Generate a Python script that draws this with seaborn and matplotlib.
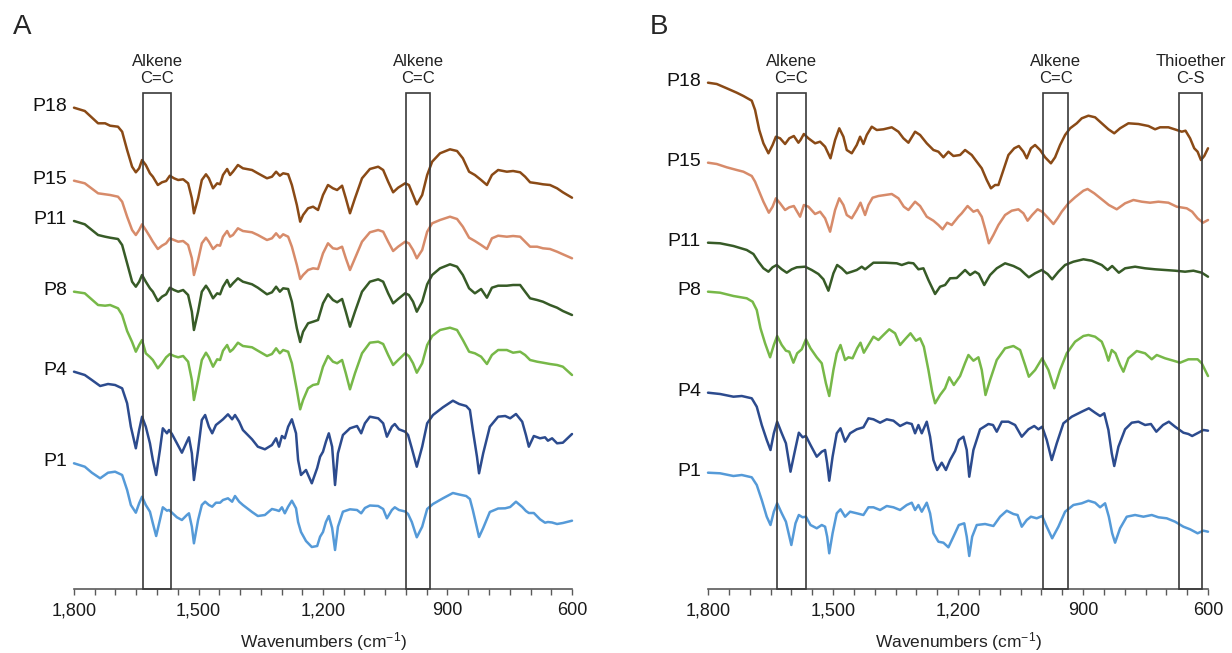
import numpy as np
import pandas as pd
import matplotlib
matplotlib.use("Agg")
import matplotlib.pyplot as plt
from matplotlib.patches import Rectangle
from matplotlib.ticker import MultipleLocator, FixedLocator, FuncFormatter
import seaborn as sns

# ---------------- data (offset transmittance, arbitrary units) ----------------
samples = ["P18", "P15", "P11", "P8", "P4", "P1"]
colors = ["#8a4a16", "#d78b6a", "#375b27", "#77b848", "#2c4b8e", "#559ad8"]

# Panel A
A_wn_top = [1800, 1774, 1742, 1725, 1713, 1694, 1684, 1672, 1660, 1651,
            1643, 1636, 1627, 1617, 1610, 1598, 1588, 1578, 1569, 1559,
            1549, 1537, 1525, 1516, 1511, 1501, 1492, 1482, 1475, 1465,
            1455, 1448, 1441, 1431, 1424, 1417, 1405, 1393, 1371, 1357,
            1335, 1323, 1313, 1304, 1296, 1284, 1275, 1263, 1255, 1248,
            1236, 1224, 1212, 1200, 1188, 1176, 1166, 1154, 1145, 1135,
            1123, 1106, 1087, 1067, 1055, 1043, 1031, 1019, 1002, 993,
            983, 974, 961, 949, 937, 918, 894, 877, 863, 848,
            834, 819, 805, 793, 778, 757, 742, 725, 713, 701,
            684, 670, 653, 636, 622, 600]
A_P18 = [481.3, 478, 465.7, 465.7, 463.3, 462.3, 457.3, 439, 422.3, 416.7,
         420.7, 429, 424, 415.7, 412.3, 404, 406.7, 408, 413.3, 410.7,
         409, 409.7, 405.7, 390.7, 375.7, 390.7, 409, 414.7, 410.7, 400.7,
         405.7, 404.7, 414, 420, 414, 417.3, 424, 420.7, 419, 415.7,
         410.7, 412.3, 417.3, 413.3, 415.7, 414.7, 404, 384, 367.3, 374,
         380.7, 382.3, 379, 394, 404, 400.7, 399, 403.3, 390.7, 375.7,
         390.7, 410.7, 420, 422.3, 419, 407.3, 396.7, 401.3, 405.7, 404,
         394, 384.7, 394, 414, 427.3, 435.7, 439.7, 438, 430.7, 417.3,
         414, 409, 404, 414, 419, 417.3, 418, 416.7, 412.3, 406.7,
         405.7, 404.7, 404, 400.7, 396.7, 391.3]
A_P15 = [408.3, 405.7, 395.7, 394.7, 394, 392.3, 387.3, 372.3, 359, 354,
         359, 364.7, 359, 352.3, 347.3, 340, 343.3, 345.7, 350.7, 349,
         347.3, 348, 344, 330.7, 314, 329, 345.7, 351.3, 347.3, 340,
         344, 343.3, 352.3, 358, 352.3, 354, 360.7, 358, 356.7, 354,
         349, 350.7, 355.7, 351.3, 354.7, 352.3, 342.3, 324, 310, 314,
         319, 320.7, 320, 335.7, 345.7, 340.7, 340, 342.3, 330.7, 319,
         330.7, 347.3, 356.7, 359, 357.3, 347.3, 338, 342.3, 347.3, 345.7,
         339, 330.7, 339, 357.3, 365.7, 369, 372.3, 370, 362.3, 351.3,
         348, 344, 340, 350.7, 353.3, 352.3, 353, 352.3, 347.3, 342.3,
         342.3, 340.7, 340, 337.3, 334.7, 330.7]
A_P11 = [368, 364.7, 354, 352.3, 351.3, 350, 344, 325.7, 307.3, 302.3,
         307.3, 314, 307.3, 300.7, 297.3, 288, 292.3, 294.7, 301.3, 299,
         297.3, 299, 294, 277.3, 259, 277.3, 297.3, 303.3, 299, 290.7,
         295.7, 294.7, 302.3, 309, 302.3, 305.7, 310.7, 307.3, 304.7, 301.3,
         294.7, 296.7, 302.3, 297.3, 300.7, 300, 287.3, 260.7, 247, 257.3,
         265.7, 267.3, 269, 285.7, 294.7, 289, 286.7, 290, 277.3, 262.3,
         277.3, 297.3, 307.3, 309.7, 307.3, 295.7, 285.7, 290, 295.7, 294,
         287.3, 277.3, 287.3, 304.7, 314, 320.7, 324.7, 322.3, 314, 300.7,
         295.7, 300, 291.3, 301.3, 303.3, 303.3, 304, 304, 297.3, 290.7,
         289, 287.3, 284, 281.3, 278, 274]
A_P8 = [297.3, 295.7, 284, 283.3, 284, 280.7, 274, 258, 247, 237.3,
        244, 249, 235.7, 232, 229, 220.7, 225.7, 231.7, 235, 233,
        231.7, 233, 227.3, 209, 189, 209, 229, 236.3, 231.7, 222.3,
        229.7, 229, 238.3, 244, 237.3, 239.7, 246.3, 243, 241.7, 238.3,
        233, 235, 240.7, 235.7, 239, 237.3, 225.7, 199, 179.7, 189,
        200.7, 204, 205, 222.3, 233, 227.3, 225.7, 229, 215.7, 199.7,
        215.7, 235.7, 246.3, 247.3, 245, 234, 224, 229, 235.7, 233,
        225.7, 216.3, 225.7, 244, 253, 259, 261.3, 259, 249, 237.3,
        235.7, 232.3, 225, 234, 239, 239, 236.3, 237.3, 234, 229,
        227.3, 226.3, 225, 224, 222.3, 214]

A_wn_bot = [1800, 1774, 1757, 1737, 1718, 1701, 1684, 1672, 1663, 1651,
            1643, 1636, 1627, 1617, 1610, 1602, 1593, 1586, 1576, 1571,
            1564, 1552, 1540, 1528, 1523, 1516, 1511, 1501, 1492, 1484,
            1475, 1467, 1458, 1448, 1441, 1429, 1419, 1412, 1402, 1393,
            1371, 1357, 1340, 1323, 1313, 1306, 1299, 1292, 1284, 1275,
            1265, 1260, 1253, 1241, 1234, 1227, 1214, 1207, 1200, 1193,
            1186, 1178, 1171, 1164, 1152, 1135, 1118, 1108, 1099, 1087,
            1067, 1055, 1046, 1034, 1027, 1017, 1002, 995, 986, 974,
            961, 949, 935, 911, 887, 872, 855, 846, 839, 829,
            824, 814, 798, 778, 761, 749, 735, 720, 711, 704,
            692, 677, 665, 658, 648, 636, 622, 600]
A_P4 = [217.3, 214, 209, 203, 205, 204, 200.7, 185.7, 162.3, 140.7,
        159, 172.3, 162.3, 145.7, 129, 114, 139, 160.7, 155.7, 159,
        155, 145.7, 136.3, 147.3, 151.7, 135.7, 109, 139, 169, 174,
        162.3, 155.7, 164, 167.3, 169.7, 174.7, 169.7, 174, 167.3, 159,
        149.7, 142.3, 139.7, 144, 150.7, 142.3, 153, 150.7, 162.3, 169.7,
        155.7, 129, 114, 119, 112.3, 105.7, 121, 132.3, 137.3, 147.3,
        155.7, 142.3, 104, 135.7, 154, 160.7, 163, 155.7, 165.7, 172.3,
        170.7, 165.7, 152.3, 162.3, 165, 159.7, 157.3, 154, 140.7, 122.3,
        142.3, 165.7, 174, 181.7, 188.3, 185, 183, 179, 159, 132.3,
        115.7, 135.7, 162.3, 172.3, 173, 170.7, 175, 167.3, 154, 142.3,
        153, 150.7, 151.7, 148.3, 150.7, 145.7, 146.3, 155]
A_P1 = [125.7, 122.3, 116.3, 110.7, 116.3, 117.3, 114, 99, 84, 76.3,
        85.7, 92.3, 84, 77.3, 65.7, 53, 69, 81.7, 78.3, 79,
        76.3, 71.7, 69, 74, 75.7, 62.3, 45.7, 69, 84, 87.3,
        84, 82.3, 86.3, 86.3, 89, 90.7, 87.3, 93, 87.3, 84,
        77, 73, 74, 80, 79, 78, 81.7, 75.7, 82.3, 88.3,
        80.7, 67, 57, 48, 45, 42, 43, 52.3, 57, 67,
        73, 61, 39, 62.3, 77.3, 79.7, 79, 75.7, 81, 83.5,
        83, 80, 70.7, 79, 81.7, 79, 77.5, 75, 67, 51.7,
        62.3, 80, 85, 90.7, 96, 94.5, 93, 90, 79, 61,
        52, 61, 77, 80.5, 80.7, 82, 87.3, 82, 78, 76,
        76, 69.7, 66.3, 67, 66.5, 65, 66, 68.3]

# Panel B
B_P18_wn = [1800, 1779, 1755, 1731, 1715, 1695, 1687, 1677, 1667, 1655,
            1645, 1637, 1627, 1615, 1605, 1594, 1583, 1578, 1570, 1559,
            1543, 1531, 1519, 1506, 1495, 1485, 1475, 1467, 1455, 1443,
            1435, 1427, 1419, 1407, 1395, 1379, 1359, 1343, 1331, 1319,
            1303, 1291, 1275, 1259, 1247, 1235, 1223, 1211, 1195, 1183,
            1167, 1155, 1143, 1131, 1121, 1111, 1103, 1091, 1079, 1065,
            1054, 1043, 1035, 1025, 1015, 1003, 991, 977, 967, 955,
            943, 931, 915, 903, 887, 871, 855, 839, 825, 811,
            791, 767, 743, 727, 715, 695, 675, 663, 654, 643,
            633, 625, 617, 609, 600]
B_P18 = [506.3, 505, 500.7, 496.3, 493, 488.3, 479, 459, 445.7, 435.7,
         444, 452.3, 450.7, 445, 450.7, 453, 446.3, 449, 455, 450.7,
         445.7, 447.3, 442.3, 430.7, 449, 460.7, 452.3, 439, 435.7, 444,
         452.3, 445, 454, 462.3, 459, 459.7, 461.7, 457.3, 450.7, 446.3,
         457.3, 454, 445.7, 439, 437.3, 431.7, 437.3, 433, 434, 439,
         434, 427.3, 420.7, 409, 400.7, 404, 404, 419, 434, 440.7,
         443, 437.3, 430.7, 440.7, 444, 439, 431.7, 425.7, 431.7, 444,
         454, 460.7, 465.7, 470.7, 473.3, 471.7, 465.7, 459.7, 455.7, 460.7,
         465.7, 465, 463, 459.7, 461.7, 461.7, 459, 457.3, 458.3, 450.7,
         440.7, 437.3, 429, 433, 440.7]
B_P15_wn = [1800, 1779, 1755, 1731, 1715, 1695, 1687, 1677, 1667, 1654,
            1645, 1637, 1627, 1615, 1605, 1594, 1579, 1570, 1559, 1543,
            1531, 1519, 1507, 1495, 1485, 1475, 1467, 1455, 1443, 1434,
            1423, 1415, 1405, 1391, 1375, 1359, 1343, 1330, 1319, 1303,
            1291, 1275, 1259, 1247, 1237, 1226, 1215, 1199, 1191, 1177,
            1163, 1153, 1143, 1134, 1126, 1115, 1103, 1087, 1071, 1055,
            1043, 1033, 1022, 1009, 998, 983, 971, 961, 951, 935,
            919, 899, 889, 873, 855, 838, 819, 799, 779, 759,
            739, 719, 695, 675, 651, 638, 625, 612, 600]
B_P15 = [426.3, 425, 421.7, 419, 417.3, 413, 407.3, 397.3, 387.3, 376.3,
         382.3, 390.7, 385.7, 379, 381.7, 383, 372.3, 384, 382.3, 375,
         377.3, 370.7, 357.3, 379, 390.7, 384, 374, 370.7, 379, 386.3,
         374, 384, 391.3, 393, 394, 395, 390.7, 382.3, 379, 387.3,
         383, 372.3, 368.3, 364, 359.7, 366.3, 364, 372.3, 375.7, 383,
         377.3, 379, 372.3, 359, 345.7, 354, 364, 374, 378.3, 379.7,
         375.7, 368.3, 374, 379.7, 377.3, 370.7, 365, 370.7, 377.3, 385.7,
         391.7, 398.3, 400, 395.7, 389.7, 384, 379.7, 385.7, 389, 387.3,
         386.3, 387.3, 386.3, 382.3, 380.7, 377.3, 370.7, 366.3, 369]
B_P11_wn = [1800, 1771, 1739, 1707, 1691, 1679, 1667, 1655, 1645, 1635,
            1623, 1611, 1599, 1587, 1567, 1551, 1535, 1523, 1511, 1499,
            1490, 1479, 1467, 1455, 1443, 1431, 1423, 1415, 1403, 1375,
            1347, 1335, 1319, 1307, 1295, 1283, 1271, 1255, 1243, 1231,
            1219, 1203, 1183, 1171, 1159, 1150, 1137, 1123, 1107, 1087,
            1067, 1051, 1039, 1030, 1015, 999, 985, 974, 959, 943,
            923, 899, 879, 855, 841, 830, 814, 799, 775, 751,
            727, 703, 679, 655, 635, 615, 600]
B_P11 = [346.3, 345.7, 343, 339, 335, 327.3, 320.7, 317.3, 321.7, 324,
         319.7, 316.3, 319.7, 321.7, 322.3, 319, 315, 309.7, 298.3, 315.7,
         324, 320.7, 315.7, 317.3, 319, 322.3, 319.7, 322.3, 326.3, 326.3,
         325.7, 324, 326.3, 325.7, 319.7, 320.7, 309, 295, 302.3, 304,
         310.7, 311, 319, 314, 317.3, 315, 304, 314, 320.7, 325.7,
         323, 319.7, 315, 311.7, 315.7, 319, 315, 309.7, 317.3, 324,
         327.3, 329.7, 328.3, 324, 319, 323, 316.3, 320.7, 322.3, 320.7,
         319.7, 319, 318.3, 317.3, 318.3, 316.3, 312.3]
B_P8_wn = [1800, 1771, 1739, 1707, 1693, 1683, 1674, 1663, 1651, 1642,
           1634, 1623, 1613, 1605, 1595, 1586, 1575, 1565, 1554, 1539,
           1527, 1517, 1509, 1499, 1491, 1482, 1471, 1463, 1453, 1442,
           1434, 1426, 1415, 1403, 1391, 1379, 1365, 1351, 1339, 1325,
           1314, 1301, 1291, 1282, 1271, 1262, 1255, 1243, 1231, 1221,
           1210, 1195, 1183, 1175, 1163, 1151, 1143, 1134, 1123, 1107,
           1087, 1067, 1051, 1039, 1030, 1015, 998, 983, 969, 955,
           939, 919, 899, 887, 871, 855, 847, 839, 831, 822,
           811, 803, 791, 771, 751, 735, 723, 703, 683, 667,
           647, 625, 615, 600]
B_P8 = [297.3, 296.3, 293, 290.7, 287.3, 279, 260.7, 245.7, 231.7, 244,
        253, 244, 238.3, 237.3, 226.3, 235.7, 239.7, 249.7, 240.7, 231.7,
        225.7, 205.7, 193, 219, 235.7, 244, 229, 231.7, 230.7, 240.7,
        246.3, 236.3, 244, 252.3, 249, 254, 259.7, 255.7, 244, 250.7,
        255.7, 248.3, 250.7, 242.3, 219, 197.3, 185.7, 194, 200.7, 211.7,
        204, 213, 226, 234, 228.3, 231.7, 219, 194, 209, 229,
        240.7, 243, 239, 224, 212.3, 219, 230.7, 219, 200.7, 219,
        235.7, 247.3, 253, 254, 252.3, 247.3, 239, 228.3, 239, 235.7,
        224, 217.3, 230.7, 238, 235.7, 229.7, 234, 230.7, 228.3, 226.3,
        229.7, 229.7, 225.7, 213]
B_P4_wn = [1800, 1771, 1739, 1719, 1695, 1683, 1671, 1659, 1650, 1642,
           1634, 1623, 1613, 1602, 1591, 1582, 1573, 1565, 1554, 1539,
           1527, 1519, 1514, 1509, 1501, 1491, 1482, 1471, 1459, 1443,
           1427, 1415, 1403, 1387, 1371, 1355, 1339, 1323, 1311, 1303,
           1295, 1287, 1275, 1267, 1259, 1250, 1239, 1229, 1219, 1207,
           1198, 1187, 1179, 1173, 1163, 1147, 1127, 1116, 1107, 1095,
           1079, 1063, 1047, 1031, 1017, 1007, 998, 987, 975, 963,
           947, 927, 903, 886, 871, 859, 849, 839, 831, 825,
           815, 799, 783, 767, 751, 737, 724, 708, 694, 679,
           659, 647, 638, 623, 611, 600]
B_P4 = [196.3, 195, 192.3, 193, 190.7, 182.3, 164, 149, 139, 155.7,
        167.3, 155.7, 145.7, 117.3, 139, 156.3, 151.7, 153, 144, 132.3,
        137.3, 139, 125.7, 108.3, 132.3, 155.7, 160.7, 147.3, 155.7, 159.7,
        161.7, 170.7, 169.7, 166.3, 169.7, 168.3, 163, 166.3, 165, 155.7,
        164, 155.7, 167.3, 152.3, 129, 119, 126.3, 119, 129, 138,
        149, 152.3, 139, 112.3, 139, 159.7, 165, 164, 157.3, 167.3,
        167.3, 164, 152.3, 159.7, 163, 159.7, 162.3, 149, 129, 145.7,
        165.7, 172.3, 177.3, 180.7, 176.3, 173, 175.7, 159, 135.7, 123,
        142.3, 159.7, 166.3, 167.3, 164, 165, 157.3, 164, 167.3, 162.3,
        156.3, 155, 153, 156.3, 159, 158.3]
B_P1_wn = [1800, 1771, 1739, 1719, 1695, 1683, 1671, 1659, 1650, 1642,
           1634, 1623, 1613, 1600, 1590, 1582, 1573, 1565, 1554, 1539,
           1527, 1519, 1514, 1509, 1501, 1491, 1482, 1471, 1459, 1443,
           1427, 1415, 1403, 1387, 1371, 1355, 1339, 1323, 1311, 1303,
           1295, 1287, 1275, 1267, 1259, 1247, 1235, 1223, 1211, 1198,
           1185, 1179, 1173, 1166, 1155, 1135, 1115, 1099, 1083, 1067,
           1057, 1047, 1035, 1025, 1011, 998, 987, 974, 959, 943,
           923, 903, 887, 871, 859, 847, 838, 830, 823, 811,
           795, 775, 755, 735, 719, 699, 679, 659, 643, 625,
           611, 600]
B_P1 = [116.3, 115.7, 113, 114, 111.7, 104, 89, 72.3, 64, 77.3,
        85.7, 75.7, 67.3, 44, 65.7, 74, 71.7, 72.3, 64, 60.7,
        64, 62.3, 52.3, 35.7, 55.7, 75.7, 79.7, 72.3, 77.3, 75.7,
        74, 81.7, 81.7, 79, 83, 81.7, 79, 84, 86.3, 79,
        84, 77.3, 86.3, 75.7, 55.7, 47.3, 46.3, 41.7, 52.3, 64,
        65.7, 52.3, 33, 52.3, 64, 65, 63, 72.3, 78.3, 75,
        74, 62.3, 69, 72.3, 70.7, 73, 62.3, 50.7, 62.3, 77.3,
        84, 85.7, 88.3, 86.3, 81.7, 85.7, 72.3, 55.7, 46.3, 60.7,
        72.3, 74, 72.3, 74, 71.7, 70.7, 67.3, 62.3, 59.7, 55.7,
        58.3, 57.3]

# Band boxes (wavenumber ranges) and their labels
A_boxes = [(1633, 1567), (1000, 941)]
A_box_labels = ["Alkene\nC=C", "Alkene\nC=C"]
B_boxes = [(1634, 1566), (995, 937), (669, 615)]
B_box_labels = ["Alkene\nC=C", "Alkene\nC=C", "Thioether\nC-S"]
box_top = 496

major_ticks = [1800, 1500, 1200, 900, 600]

# ---------------- styling ----------------
sns.set_style("white")
plt.rcParams["font.family"] = ["Liberation Sans", "DejaVu Sans"]
plt.rcParams["mathtext.fontset"] = "custom"
plt.rcParams["mathtext.rm"] = "Liberation Sans"
plt.rcParams["mathtext.it"] = "Liberation Sans:italic"
plt.rcParams["axes.unicode_minus"] = False

W, H = 1232, 653
fig = plt.figure(figsize=(W / 100, H / 100), dpi=100)

axA = fig.add_axes([74 / W, (H - 589) / H, 498 / W, 559 / H])
axB = fig.add_axes([708 / W, (H - 589) / H, 500 / W, 559 / H])

panelA = [(A_wn_top, A_P18), (A_wn_top, A_P15), (A_wn_top, A_P11),
          (A_wn_top, A_P8), (A_wn_bot, A_P4), (A_wn_bot, A_P1)]
panelB = [(B_P18_wn, B_P18), (B_P15_wn, B_P15), (B_P11_wn, B_P11),
          (B_P8_wn, B_P8), (B_P4_wn, B_P4), (B_P1_wn, B_P1)]


def build_df(panel):
    frames = []
    for name, (wn, vals) in zip(samples, panel):
        frames.append(pd.DataFrame({"wn": wn, "val": vals, "sample": name}))
    return pd.concat(frames, ignore_index=True)


def draw(ax, panel, boxes, box_labels):
    df = build_df(panel)
    sns.lineplot(data=df, x="wn", y="val", hue="sample", hue_order=samples,
                 palette=colors, estimator=None, legend=False, lw=1.8,
                 ax=ax, clip_on=False, solid_joinstyle="round",
                 solid_capstyle="round")
    for name, (wn, vals) in zip(samples, panel):
        ax.annotate(name, xy=(wn[0], vals[0]), xytext=(-5, 1),
                    textcoords="offset points", ha="right", va="center",
                    fontsize=14, color="#111111", annotation_clip=False)
    for (hi, lo), lab in zip(boxes, box_labels):
        ax.add_patch(Rectangle((lo, 0), hi - lo, box_top, fill=False,
                               edgecolor="#3a3a3a", lw=1.2, clip_on=False,
                               zorder=3))
        ax.annotate(lab, xy=((hi + lo) / 2, box_top), xytext=(0, 5),
                    textcoords="offset points", ha="center", va="bottom",
                    fontsize=12, linespacing=1.15, color="#222222",
                    annotation_clip=False)
    ax.set_xlim(1800, 600)
    ax.set_ylim(0, 559)
    ax.set_yticks([])
    ax.set_ylabel("")
    for s in ["left", "top", "right"]:
        ax.spines[s].set_visible(False)
    ax.spines["bottom"].set_color("#5a5a5a")
    ax.spines["bottom"].set_linewidth(1.2)
    ax.xaxis.set_major_locator(FixedLocator(major_ticks))
    ax.xaxis.set_minor_locator(MultipleLocator(50))
    ax.xaxis.set_major_formatter(FuncFormatter(lambda v, p: f"{int(v):,}"))
    ax.tick_params(axis="x", which="both", direction="out", length=4.5,
                   width=1.0, color="#5a5a5a", bottom=True)
    ax.tick_params(axis="x", which="major", labelsize=13, pad=5,
                   labelcolor="#1a1a1a")
    ax.set_xlabel(r"Wavenumbers (cm$^{\mathregular{-1}}$)", fontsize=12.5,
                  labelpad=8, color="#222222")
    ax.patch.set_alpha(0)


draw(axA, panelA, A_boxes, A_box_labels)
draw(axB, panelB, B_boxes, B_box_labels)

fig.text(22 / W, 1 - 27 / H, "A", fontsize=20, ha="center", va="center")
fig.text(659 / W, 1 - 27 / H, "B", fontsize=20, ha="center", va="center")

fig.savefig("out.png", dpi=100)
